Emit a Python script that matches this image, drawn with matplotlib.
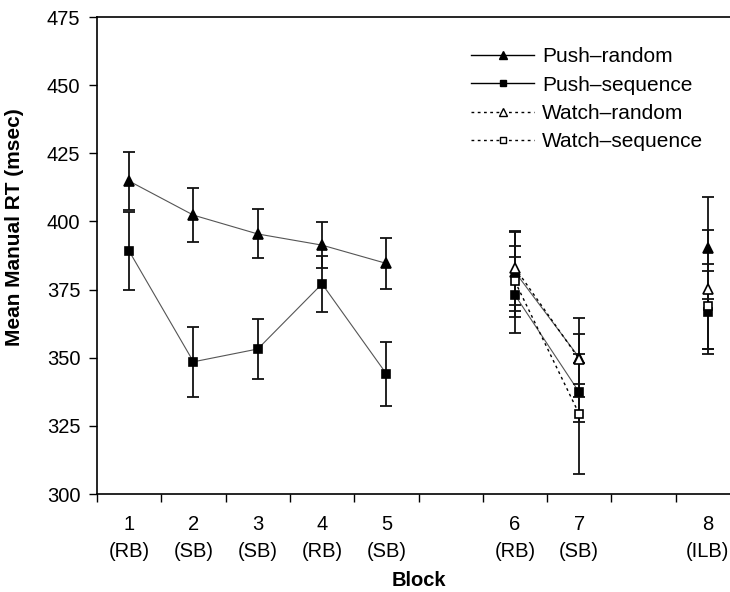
import numpy as np
import matplotlib.pyplot as plt
from matplotlib.lines import Line2D

plt.rcParams['font.family'] = ['Liberation Sans', 'DejaVu Sans']

# ==========================
# Data
# ==========================

block_labels = ['1\n(RB)', '2\n(SB)', '3\n(SB)', '4\n(RB)', '5\n(SB)',
                '6\n(RB)', '7\n(SB)', '8\n(ILB)']
block_pos = [1, 2, 3, 4, 5, 7, 8, 10]      # category slots (gaps at 6 and 9)

push_random = [414.8, 402.3, 395.4, 391.3, 384.6, 381.5, 350.0, 390.3]
push_random_err = [10.7, 10.0, 9.0, 8.5, 9.3, 14.5, 14.5, 18.8]

push_sequence = [389.1, 348.5, 353.2, 377.1, 344.1, 373.0, 337.3, 366.6]
push_sequence_err = [14.3, 12.9, 10.9, 10.2, 11.7, 14.0, 10.8, 15.3]

watch_pos = [7, 8, 10]
watch_random = [383.0, 349.5, 375.1]
watch_random_err = [13.5, 9.3, 21.8]

watch_sequence = [378.0, 329.3, 368.8]
watch_sequence_err = [13.0, 22.0, 15.5]

# which points are joined by a line
push_groups = [[0, 1, 2, 3, 4], [5, 6], [7]]
watch_groups = [[0, 1], [2]]

# ==========================
# Plot
# ==========================

fig = plt.figure(figsize=(7.3, 5.92), dpi=100)
ax = fig.add_axes([97 / 730, 98 / 592, 643 / 730, 477 / 592])

err_kw = dict(fmt='none', ecolor='#111111', elinewidth=1.3, capsize=4.2,
              capthick=1.3, zorder=2)

dots = (0, (2, 2.5))
series = [
    (block_pos, push_random, push_random_err, push_groups, '-', '^', 'black', 7.5),
    (block_pos, push_sequence, push_sequence_err, push_groups, '-', 's', 'black', 6),
    (watch_pos, watch_random, watch_random_err, watch_groups, dots, '^', 'white', 7.5),
    (watch_pos, watch_sequence, watch_sequence_err, watch_groups, dots, 's', 'white', 6),
]

for xs, ys, es, groups, ls, mk, face, ms in series:
    xs = np.array(xs)
    ys = np.array(ys)
    ax.errorbar(xs, ys, yerr=es, **err_kw)
    for g in groups:
        if len(g) > 1:
            solid = ls == '-'
            ax.plot(xs[g], ys[g], linestyle=ls,
                    color='#555555' if solid else 'black',
                    linewidth=0.8 if solid else 1.0, zorder=1)
    ax.plot(xs, ys, linestyle='none', marker=mk, markersize=ms,
            markerfacecolor=face, markeredgecolor='black',
            markeredgewidth=1.2, zorder=3)

ax.set_ylim(300, 475)
ax.set_yticks(np.arange(300, 476, 25))
ax.set_xlim(0.5, 10.5)

# tick marks between the categories, labels in the middle
ax.set_xticks(np.arange(0.5, 10.6, 1))
ax.set_xticklabels([])
ax.set_xticks(block_pos, minor=True)
ax.set_xticklabels(block_labels, minor=True, linespacing=1.55)
ax.tick_params(axis='x', which='major', direction='out', length=6, width=1)
ax.tick_params(axis='x', which='minor', length=0, pad=15, labelsize=14.5)
ax.tick_params(axis='y', direction='out', length=6, width=1, pad=6,
               labelsize=14.5)

for s in ax.spines.values():
    s.set_linewidth(1.2)

ax.set_xlabel('Block', fontsize=14.5, fontweight='bold', labelpad=7)
ax.set_ylabel('Mean Manual RT (msec)', fontsize=15, fontweight='bold')
ax.yaxis.set_label_coords(-0.113, 0.56)

handles = [
    Line2D([], [], color='black', lw=1, marker='^', ms=6, mfc='black', mec='black'),
    Line2D([], [], color='black', lw=1, marker='s', ms=5, mfc='black', mec='black'),
    Line2D([], [], color='black', lw=1, ls=dots, marker='^', ms=6,
           mfc='white', mec='black'),
    Line2D([], [], color='black', lw=1, ls=dots, marker='s', ms=5,
           mfc='white', mec='black'),
]
names = ['Push\u2013random', 'Push\u2013sequence', 'Watch\u2013random',
         'Watch\u2013sequence']
fig.legend(handles, names, loc='upper left', bbox_to_anchor=(463 / 730, 1 - 39 / 592),
           frameon=False, fontsize=15, handlelength=3.0, handletextpad=0.4,
           labelspacing=0.45, borderaxespad=0)

plt.savefig('out.png', dpi=100)
